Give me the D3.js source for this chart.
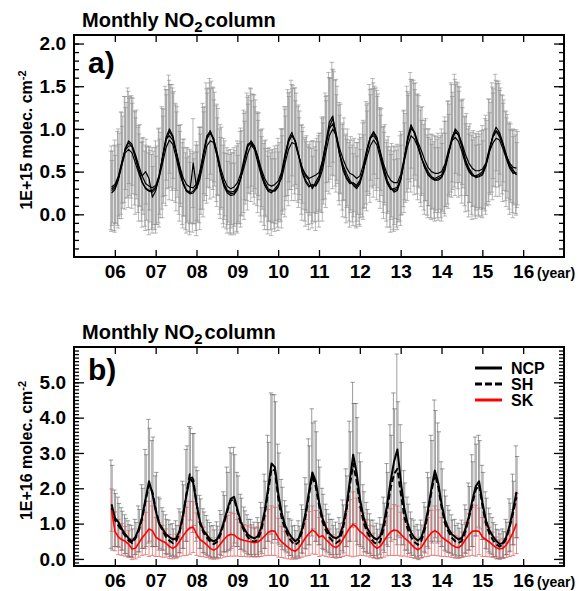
<!DOCTYPE html>
<html>
<head>
<meta charset="utf-8">
<script src="https://cdn.jsdelivr.net/npm/d3@7"></script>
<style>
  body { margin: 0; background: #fff; }
  text { font-family: "Liberation Sans", Arial, Helvetica, sans-serif; font-weight: bold; }
</style>
</head>
<body>
<svg id="chart" width="583" height="591"></svg>
<script>
// first month of the series sits just before the "06" tick
const startYear = 2005.92;
const yearTicks = [2006, 2007, 2008, 2009, 2010, 2011, 2012, 2013, 2014, 2015, 2016];

// ---- panel a: monthly NO2 column, 4 sites (1E+15 molec. cm-2), one row per year ----
const siteA1 = [
  0.28,0.31,0.42,0.60,0.76,0.84,0.79,0.66,0.52,0.38,0.30,0.27,
  0.26,0.30,0.45,0.66,0.86,0.97,0.90,0.72,0.52,0.36,0.27,0.24,
  0.25,0.31,0.46,0.68,0.88,0.95,0.89,0.71,0.50,0.35,0.27,0.24,
  0.25,0.30,0.43,0.62,0.79,0.86,0.80,0.65,0.48,0.35,0.28,0.27,
  0.28,0.33,0.46,0.66,0.84,0.93,0.86,0.70,0.52,0.40,0.34,0.33,
  0.35,0.42,0.58,0.80,1.02,1.12,0.95,0.72,0.55,0.44,0.38,0.36,
  0.32,0.38,0.52,0.72,0.88,0.95,0.88,0.70,0.52,0.38,0.30,0.28,
  0.30,0.42,0.65,0.88,1.02,0.95,0.82,0.68,0.55,0.46,0.42,0.40,
  0.42,0.44,0.55,0.72,0.90,0.98,0.92,0.78,0.62,0.52,0.46,0.44,
  0.45,0.48,0.58,0.75,0.90,0.98,0.94,0.82,0.68,0.56,0.50,0.47
];
const siteA2 = [
  0.25,0.29,0.40,0.58,0.77,0.86,0.82,0.68,0.52,0.45,0.50,0.42,
  0.20,0.28,0.44,0.68,0.90,1.00,0.92,0.74,0.55,0.38,0.28,0.25,
  0.27,0.33,0.50,0.72,0.92,0.97,0.86,0.68,0.48,0.33,0.25,0.22,
  0.23,0.29,0.42,0.63,0.80,0.83,0.78,0.66,0.50,0.38,0.30,0.28,
  0.27,0.32,0.48,0.68,0.88,0.96,0.84,0.68,0.55,0.45,0.40,0.30,
  0.38,0.45,0.62,0.85,1.08,1.15,0.90,0.70,0.58,0.48,0.40,0.34,
  0.30,0.36,0.50,0.74,0.90,0.97,0.90,0.72,0.55,0.40,0.32,0.26,
  0.28,0.40,0.62,0.90,1.05,0.96,0.80,0.66,0.58,0.50,0.44,0.40,
  0.40,0.43,0.52,0.70,0.88,1.00,0.95,0.80,0.64,0.54,0.48,0.43,
  0.44,0.46,0.56,0.72,0.92,1.02,0.96,0.84,0.70,0.58,0.52,0.46
];
const siteA3 = [
  0.30,0.33,0.42,0.57,0.72,0.76,0.72,0.60,0.48,0.37,0.31,0.28,
  0.28,0.32,0.43,0.60,0.78,0.87,0.82,0.66,0.48,0.36,0.28,0.26,
  0.60,0.30,0.42,0.61,0.80,0.86,0.84,0.69,0.50,0.37,0.28,0.26,
  0.27,0.32,0.43,0.56,0.71,0.81,0.76,0.60,0.45,0.34,0.27,0.25,
  0.30,0.35,0.42,0.60,0.76,0.84,0.82,0.68,0.49,0.38,0.32,0.35,
  0.33,0.40,0.52,0.73,0.92,1.00,0.92,0.71,0.52,0.42,0.36,0.37,
  0.34,0.40,0.52,0.66,0.80,0.87,0.81,0.65,0.49,0.36,0.29,0.30,
  0.32,0.42,0.62,0.80,0.92,0.88,0.79,0.67,0.55,0.48,0.44,0.42,
  0.44,0.46,0.56,0.70,0.86,0.90,0.85,0.73,0.59,0.50,0.45,0.45,
  0.47,0.50,0.58,0.73,0.83,0.89,0.87,0.77,0.65,0.54,0.48,0.49
];
const siteA4 = [
  0.32,0.35,0.45,0.61,0.75,0.80,0.80,0.70,0.57,0.45,0.36,0.33,
  0.31,0.34,0.46,0.68,0.88,0.92,0.87,0.73,0.57,0.43,0.35,0.32,
  0.31,0.36,0.51,0.71,0.90,0.98,0.88,0.73,0.55,0.42,0.33,0.30,
  0.32,0.37,0.48,0.66,0.82,0.84,0.79,0.68,0.53,0.42,0.35,0.33,
  0.35,0.39,0.50,0.71,0.86,0.92,0.86,0.69,0.54,0.47,0.42,0.44,
  0.46,0.49,0.63,0.83,1.00,1.06,0.93,0.77,0.65,0.55,0.48,0.46,
  0.42,0.45,0.58,0.76,0.90,0.92,0.86,0.73,0.58,0.47,0.40,0.37,
  0.37,0.47,0.66,0.86,1.00,0.97,0.85,0.75,0.64,0.55,0.50,0.48,
  0.48,0.50,0.59,0.75,0.86,0.96,0.93,0.83,0.70,0.60,0.54,0.51,
  0.51,0.53,0.60,0.77,0.90,0.97,0.91,0.81,0.68,0.60,0.55,0.54
];
// standard deviations (error bars) for the four sites
const sdA1 = [
  0.46,0.50,0.55,0.60,0.62,0.64,0.60,0.55,0.50,0.46,0.44,0.45,
  0.44,0.48,0.55,0.60,0.64,0.66,0.62,0.58,0.52,0.48,0.45,0.44,
  0.46,0.50,0.56,0.62,0.66,0.64,0.60,0.56,0.50,0.46,0.44,0.46,
  0.47,0.50,0.54,0.60,0.63,0.62,0.60,0.55,0.50,0.48,0.46,0.45,
  0.45,0.48,0.54,0.60,0.62,0.64,0.62,0.56,0.52,0.48,0.46,0.44,
  0.44,0.50,0.56,0.62,0.64,0.66,0.62,0.56,0.50,0.48,0.46,0.45,
  0.46,0.50,0.55,0.60,0.64,0.64,0.60,0.55,0.50,0.46,0.45,0.46,
  0.45,0.50,0.56,0.62,0.64,0.62,0.58,0.54,0.50,0.47,0.46,0.45,
  0.46,0.48,0.54,0.60,0.64,0.66,0.62,0.56,0.52,0.48,0.46,0.46,
  0.46,0.50,0.54,0.60,0.64,0.66,0.62,0.58,0.52,0.50,0.48,0.46
];
const sdA2 = [
  0.38,0.40,0.42,0.45,0.48,0.50,0.48,0.45,0.42,0.40,0.38,0.37,
  0.36,0.40,0.44,0.47,0.50,0.52,0.50,0.46,0.42,0.40,0.38,0.36,
  0.38,0.40,0.44,0.48,0.50,0.50,0.48,0.45,0.42,0.39,0.37,0.38,
  0.37,0.40,0.43,0.46,0.49,0.50,0.48,0.44,0.41,0.39,0.38,0.37,
  0.38,0.41,0.44,0.47,0.50,0.51,0.49,0.45,0.42,0.40,0.38,0.38,
  0.37,0.40,0.45,0.48,0.52,0.54,0.50,0.46,0.42,0.40,0.38,0.37,
  0.38,0.40,0.43,0.47,0.50,0.50,0.48,0.44,0.41,0.39,0.38,0.38,
  0.37,0.41,0.45,0.49,0.51,0.50,0.47,0.44,0.42,0.40,0.38,0.38,
  0.38,0.40,0.43,0.47,0.50,0.52,0.49,0.45,0.42,0.40,0.39,0.38,
  0.38,0.40,0.44,0.47,0.50,0.51,0.49,0.46,0.43,0.41,0.39,0.38
];
const sdA3 = [
  0.50,0.54,0.58,0.62,0.66,0.68,0.65,0.60,0.56,0.52,0.50,0.52,
  0.50,0.54,0.58,0.64,0.68,0.70,0.66,0.62,0.56,0.52,0.50,0.50,
  0.52,0.55,0.60,0.64,0.67,0.68,0.64,0.60,0.55,0.52,0.50,0.50,
  0.51,0.54,0.58,0.62,0.66,0.66,0.64,0.58,0.54,0.52,0.50,0.50,
  0.50,0.54,0.58,0.63,0.66,0.68,0.66,0.60,0.56,0.52,0.50,0.51,
  0.52,0.55,0.60,0.65,0.68,0.70,0.66,0.60,0.55,0.52,0.51,0.50,
  0.50,0.54,0.58,0.62,0.66,0.67,0.64,0.58,0.54,0.51,0.50,0.50,
  0.50,0.55,0.60,0.64,0.66,0.65,0.62,0.58,0.55,0.52,0.50,0.50,
  0.51,0.54,0.58,0.63,0.66,0.68,0.65,0.60,0.56,0.53,0.51,0.50,
  0.50,0.54,0.58,0.62,0.66,0.68,0.66,0.62,0.56,0.54,0.52,0.50
];
const sdA4 = [
  0.42,0.45,0.50,0.54,0.56,0.58,0.56,0.52,0.48,0.45,0.43,0.42,
  0.43,0.46,0.50,0.55,0.58,0.60,0.57,0.53,0.48,0.45,0.43,0.42,
  0.42,0.45,0.51,0.55,0.58,0.58,0.55,0.51,0.47,0.44,0.42,0.42,
  0.43,0.46,0.50,0.54,0.57,0.57,0.55,0.51,0.47,0.45,0.43,0.43,
  0.42,0.45,0.50,0.55,0.57,0.59,0.56,0.52,0.48,0.45,0.43,0.42,
  0.43,0.46,0.51,0.56,0.59,0.61,0.57,0.52,0.48,0.45,0.43,0.43,
  0.42,0.45,0.50,0.54,0.57,0.58,0.55,0.51,0.47,0.44,0.43,0.42,
  0.43,0.47,0.52,0.56,0.58,0.57,0.54,0.51,0.48,0.45,0.43,0.43,
  0.42,0.45,0.50,0.54,0.57,0.59,0.56,0.52,0.48,0.46,0.44,0.43,
  0.43,0.46,0.50,0.54,0.57,0.59,0.57,0.53,0.49,0.46,0.44,0.43
];

// ---- panel b: NCP, SH, SK (1E+16 molec. cm-2) ----
const ncp = [
  1.55,1.15,1.05,0.85,0.70,0.58,0.50,0.62,0.85,1.20,1.70,2.20,
  1.85,1.35,1.00,0.85,0.70,0.62,0.55,0.58,0.80,1.25,1.80,2.30,
  2.15,1.55,1.05,0.80,0.68,0.55,0.50,0.55,0.75,1.05,1.40,1.70,
  1.76,1.40,1.05,0.85,0.70,0.62,0.58,0.65,0.90,1.35,2.00,2.70,
  2.60,1.85,1.30,0.95,0.75,0.60,0.50,0.58,0.85,1.30,1.90,2.45,
  2.20,1.60,1.15,0.90,0.72,0.62,0.58,0.65,0.95,1.45,2.20,2.95,
  2.45,1.70,1.20,0.90,0.72,0.60,0.55,0.65,1.00,1.55,2.20,2.75,
  3.10,2.20,1.45,1.00,0.75,0.60,0.52,0.60,0.90,1.40,2.00,2.50,
  2.15,1.55,1.10,0.85,0.70,0.62,0.55,0.60,0.85,1.20,1.65,2.05,
  2.20,1.60,1.10,0.82,0.65,0.52,0.42,0.45,0.62,0.95,1.40,1.90
];
const sh = [
  1.45,1.10,0.95,0.80,0.65,0.52,0.45,0.58,0.80,1.15,1.65,2.10,
  1.90,1.40,1.00,0.80,0.62,0.52,0.45,0.50,0.75,1.20,1.85,2.40,
  2.25,1.55,1.00,0.75,0.60,0.48,0.42,0.48,0.68,1.00,1.35,1.65,
  1.70,1.35,1.00,0.78,0.62,0.52,0.48,0.55,0.80,1.25,1.90,2.55,
  2.50,1.70,1.15,0.85,0.62,0.48,0.40,0.48,0.78,1.20,1.80,2.35,
  2.05,1.50,1.05,0.80,0.62,0.50,0.45,0.52,0.85,1.35,2.05,2.70,
  2.20,1.55,1.05,0.78,0.60,0.48,0.42,0.50,0.88,1.40,2.00,2.40,
  2.55,1.85,1.20,0.85,0.62,0.48,0.40,0.50,0.82,1.30,1.90,2.40,
  2.05,1.45,1.00,0.78,0.60,0.50,0.45,0.52,0.78,1.15,1.55,1.95,
  2.10,1.50,1.00,0.72,0.55,0.42,0.35,0.40,0.58,0.90,1.30,1.75
];
const sk = [
  1.38,0.78,0.62,0.55,0.50,0.42,0.28,0.30,0.45,0.60,0.72,0.85,
  0.80,0.62,0.55,0.50,0.45,0.35,0.30,0.36,0.50,0.65,0.78,0.88,
  0.90,0.70,0.55,0.48,0.40,0.30,0.25,0.30,0.42,0.55,0.65,0.70,
  0.68,0.60,0.55,0.52,0.50,0.48,0.46,0.48,0.55,0.65,0.75,0.80,
  0.78,0.60,0.48,0.40,0.32,0.25,0.22,0.30,0.45,0.60,0.72,0.82,
  0.75,0.62,0.66,0.55,0.45,0.36,0.32,0.40,0.55,0.72,0.88,0.98,
  0.90,0.78,0.70,0.60,0.50,0.38,0.30,0.36,0.50,0.65,0.76,0.82,
  0.80,0.70,0.60,0.52,0.42,0.32,0.26,0.32,0.48,0.62,0.74,0.80,
  0.74,0.62,0.55,0.48,0.40,0.34,0.32,0.40,0.55,0.68,0.78,0.80,
  0.78,0.62,0.55,0.48,0.40,0.32,0.28,0.30,0.40,0.55,0.75,1.00
];
const sdNcp = [
  1.25,0.80,0.70,0.60,0.55,0.50,0.45,0.50,0.65,0.90,1.40,1.75,
  1.50,1.00,0.75,0.60,0.55,0.48,0.45,0.50,0.62,0.95,1.30,1.45,
  1.40,1.05,0.75,0.62,0.55,0.48,0.45,0.50,0.62,0.85,1.20,1.45,
  1.40,1.05,0.78,0.62,0.55,0.50,0.46,0.52,0.70,1.05,1.50,2.00,
  2.05,1.40,0.95,0.70,0.58,0.50,0.45,0.50,0.68,1.00,1.50,1.80,
  1.70,1.20,0.85,0.65,0.55,0.50,0.46,0.52,0.72,1.10,1.70,2.05,
  1.95,1.30,0.90,0.70,0.56,0.50,0.46,0.52,0.75,1.15,1.60,1.95,
  2.70,1.60,1.05,0.75,0.58,0.50,0.46,0.50,0.70,1.05,1.50,2.00,
  1.70,1.20,0.85,0.66,0.55,0.50,0.46,0.50,0.68,0.95,1.30,1.40,
  1.30,1.05,0.80,0.62,0.52,0.45,0.40,0.40,0.50,0.75,1.00,1.30
];
const sdSh = [
  1.20,0.75,0.62,0.55,0.50,0.45,0.40,0.45,0.60,0.85,1.30,1.60,
  1.55,1.05,0.70,0.55,0.50,0.45,0.40,0.45,0.58,0.90,1.35,1.30,
  1.30,0.95,0.70,0.58,0.50,0.45,0.40,0.45,0.58,0.80,1.10,1.35,
  1.25,1.00,0.72,0.58,0.50,0.45,0.42,0.48,0.65,0.95,1.40,2.10,
  1.95,1.30,0.88,0.65,0.52,0.45,0.40,0.45,0.62,0.92,1.40,1.50,
  1.55,1.10,0.78,0.60,0.50,0.45,0.40,0.48,0.68,1.00,1.55,1.70,
  1.80,1.20,0.85,0.62,0.50,0.45,0.42,0.48,0.70,1.05,1.50,1.85,
  1.90,1.45,0.95,0.70,0.52,0.45,0.42,0.46,0.65,1.00,1.45,1.80,
  1.55,1.10,0.78,0.60,0.50,0.45,0.42,0.46,0.62,0.90,1.20,1.30,
  1.25,0.95,0.72,0.56,0.48,0.42,0.36,0.38,0.46,0.68,0.90,1.15
];
const sdSk = [
  0.60,0.55,0.50,0.45,0.42,0.38,0.30,0.30,0.40,0.50,0.60,0.78,
  0.70,0.55,0.48,0.45,0.40,0.34,0.30,0.34,0.44,0.56,0.68,0.75,
  0.72,0.60,0.48,0.42,0.36,0.30,0.26,0.30,0.40,0.50,0.58,0.62,
  0.60,0.52,0.48,0.45,0.44,0.42,0.40,0.42,0.48,0.56,0.65,0.70,
  0.68,0.55,0.44,0.38,0.32,0.26,0.22,0.28,0.40,0.52,0.62,0.68,
  0.62,0.55,0.56,0.48,0.40,0.32,0.30,0.36,0.48,0.62,0.80,0.92,
  0.82,0.68,0.60,0.52,0.45,0.35,0.28,0.32,0.45,0.56,0.66,0.72,
  0.70,0.62,0.52,0.46,0.38,0.30,0.25,0.30,0.42,0.55,0.64,0.70,
  0.65,0.55,0.48,0.42,0.36,0.32,0.30,0.36,0.48,0.60,0.68,0.72,
  0.66,0.55,0.48,0.42,0.36,0.30,0.26,0.28,0.36,0.48,0.65,0.85
];

const svg = d3.select("#chart");
const left = 74, right = 564;

const x = d3.scaleLinear().domain([2005, 2017]).range([left, right]);
const monthX = i => x(startYear + i / 12);

// draws frame, ticks, labels for one panel and returns y scale + clipped group
function drawFrame(p) {
    const y = d3.scaleLinear().domain(p.yDomain).range([p.bottom, p.top]);
    const g = svg.append("g");

    g.append("clipPath").attr("id", "clip-" + p.id)
        .append("rect")
        .attr("x", left).attr("y", p.top)
        .attr("width", right - left).attr("height", p.bottom - p.top);

    // minor ticks, left and right
    g.append("g").attr("transform", `translate(${left},0)`)
        .call(d3.axisLeft(y).tickValues(p.minor).tickSize(-5).tickFormat(""))
        .call(a => a.select(".domain").remove());
    g.append("g").attr("transform", `translate(${right},0)`)
        .call(d3.axisRight(y).tickValues(p.minor).tickSize(-5).tickFormat(""))
        .call(a => a.select(".domain").remove());

    // major ticks with labels
    g.append("g").attr("transform", `translate(${left},0)`)
        .call(d3.axisLeft(y).tickValues(p.major).tickSize(-10).tickPadding(8).tickFormat(d3.format(".1f")))
        .call(a => a.select(".domain").remove())
        .selectAll("text").attr("font-size", "19px").attr("fill", "#000");
    g.append("g").attr("transform", `translate(${right},0)`)
        .call(d3.axisRight(y).tickValues(p.major).tickSize(-10).tickFormat(""))
        .call(a => a.select(".domain").remove());

    // year ticks bottom and top
    g.append("g").attr("transform", `translate(0,${p.bottom})`)
        .call(d3.axisBottom(x).tickValues(yearTicks).tickSize(-7).tickPadding(8).tickFormat(d => String(d).slice(2)))
        .call(a => a.select(".domain").remove())
        .selectAll("text").attr("font-size", "19px").attr("fill", "#000");
    g.append("g").attr("transform", `translate(0,${p.top})`)
        .call(d3.axisTop(x).tickValues(yearTicks).tickSize(-7).tickFormat(""))
        .call(a => a.select(".domain").remove());

    g.selectAll(".tick line").attr("stroke", "#000").attr("stroke-width", 1.3);

    g.append("text")
        .attr("x", 537).attr("y", p.bottom + 21)
        .attr("font-size", "14px")
        .text("(year)");

    // title with subscript
    const title = g.append("text")
        .attr("x", 82).attr("y", p.top - 8)
        .attr("font-size", "20px");
    title.append("tspan").text("Monthly NO");
    title.append("tspan").attr("dy", 5).attr("font-size", "15px").text("2");
    title.append("tspan").attr("dy", -5).attr("dx", 2).text("column");

    g.append("text")
        .attr("x", 88).attr("y", p.top + p.labelDy)
        .attr("font-size", "30px")
        .text(p.label);

    // rotated unit label with superscript
    const yl = g.append("text")
        .attr("transform", `translate(32,${(p.top + p.bottom) / 2 - 6}) rotate(-90)`)
        .attr("text-anchor", "middle")
        .attr("font-size", "16px");
    yl.append("tspan").text(p.unit + " molec. cm");
    yl.append("tspan").attr("dy", -6).attr("font-size", "11px").text("-2");

    const plot = svg.append("g").attr("clip-path", `url(#clip-${p.id})`);
    return { y, plot, frame: g };
}

function errorBars(g, y, vals, sds, color, dx, sw) {
    const cap = 2.2;
    const bars = g.append("g").attr("stroke", color).attr("stroke-width", sw).attr("fill", "none");
    vals.forEach((v, i) => {
        const cx = monthX(i) + dx;
        const y0 = y(v - sds[i]), y1 = y(v + sds[i]);
        bars.append("line").attr("x1", cx).attr("x2", cx).attr("y1", y0).attr("y2", y1);
        bars.append("line").attr("x1", cx - cap).attr("x2", cx + cap).attr("y1", y0).attr("y2", y0);
        bars.append("line").attr("x1", cx - cap).attr("x2", cx + cap).attr("y1", y1).attr("y2", y1);
    });
}

function seriesLine(g, y, vals, color, sw, dash) {
    const line = d3.line().x((d, i) => monthX(i)).y(d => y(d));
    g.append("path")
        .datum(vals)
        .attr("d", line)
        .attr("fill", "none")
        .attr("stroke", color)
        .attr("stroke-width", sw)
        .attr("stroke-dasharray", dash || null)
        .attr("stroke-linejoin", "round");
}

function border(top, bottom) {
    svg.append("rect")
        .attr("x", left).attr("y", top)
        .attr("width", right - left).attr("height", bottom - top)
        .attr("fill", "none").attr("stroke", "#000").attr("stroke-width", 2);
}

// ---------- panel a ----------
const pa = drawFrame({
    id: "a", top: 35, bottom: 257, yDomain: [-0.5, 2.1],
    major: [0, 0.5, 1, 1.5, 2],
    minor: d3.range(-4, 21).map(d => d / 10),
    label: "a)", labelDy: 38, unit: "1E+15"
});
const sitesA = [siteA1, siteA2, siteA3, siteA4];
const sdsA = [sdA1, sdA2, sdA3, sdA4];
sitesA.forEach((s, k) => errorBars(pa.plot, pa.y, s, sdsA[k], "#8a8a8a", [-0.9, 0.3, -0.3, 0.9][k], 0.6));
sitesA.forEach(s => seriesLine(pa.plot, pa.y, s, "#000", 1.2));
border(35, 257);

// ---------- panel b ----------
const pb = drawFrame({
    id: "b", top: 347, bottom: 566, yDomain: [-0.2, 6.0],
    major: [0, 1, 2, 3, 4, 5],
    minor: d3.range(-1, 60).map(d => d / 10),
    label: "b)", labelDy: 33, unit: "1E+16"
});
errorBars(pb.plot, pb.y, ncp, sdNcp, "#5a5a5a", -0.6, 0.6);
errorBars(pb.plot, pb.y, sh, sdSh, "#5a5a5a", 0.6, 0.6);
errorBars(pb.plot, pb.y, sk, sdSk, "#e05a5a", 0, 0.7);
seriesLine(pb.plot, pb.y, ncp, "#000", 2);
seriesLine(pb.plot, pb.y, sh, "#000", 2, "6,3");
seriesLine(pb.plot, pb.y, sk, "#ff0000", 1.6);
border(347, 566);

// legend
const legendNames = ["NCP", "SH", "SK"];
const legendColors = ["#000", "#000", "#ff0000"];
const legendDash = [null, "7,3", null];
const legend = svg.append("g").attr("transform", "translate(475,368)");
legendNames.forEach((name, k) => {
    const row = legend.append("g").attr("transform", `translate(0,${k * 16})`);
    row.append("line").attr("x1", 0).attr("x2", 27).attr("y1", 0).attr("y2", 0)
        .attr("stroke", legendColors[k]).attr("stroke-width", 3)
        .attr("stroke-dasharray", legendDash[k]);
    row.append("text").attr("x", 36).attr("y", 6).attr("font-size", "16px").text(name);
});
</script>
</body>
</html>
